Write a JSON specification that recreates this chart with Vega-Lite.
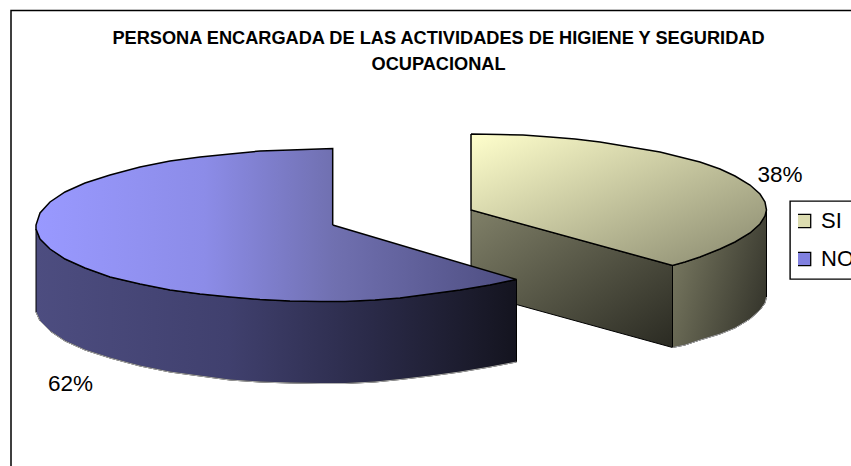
{"$schema":"https://vega.github.io/schema/vega-lite/v6.json","width":851,"height":466,"padding":0,"autosize":{"type":"none"},"background":"white","config":{"view":{"stroke":null},"legend":{"symbolOpacity":1}},
"title":{"text":["PERSONA ENCARGADA DE LAS ACTIVIDADES DE HIGIENE Y SEGURIDAD","OCUPACIONAL"],"font":"Liberation Sans","fontSize":18.2,"fontWeight":"bold","color":"black","anchor":"middle","frame":"group","dx":13,"offset":-74,"lineHeight":26,"baseline":"top"},
"datasets":{"outline":[
{"shape":"frame","seq":1,"x":11,"y":466},{"shape":"frame","seq":2,"x":11,"y":10.5},{"shape":"frame","seq":3,"x":851,"y":10.5},
{"shape":"si_front","seq":1,"x":471,"y":210},{"shape":"si_front","seq":2,"x":672.5,"y":265.5},{"shape":"si_front","seq":3,"x":672.5,"y":347.5},{"shape":"si_front","seq":4,"x":471,"y":292},{"shape":"si_front","seq":5,"x":471,"y":210},
{"shape":"si_side","seq":1,"x":672.5,"y":265.5},{"shape":"si_side","seq":2,"x":685,"y":262},{"shape":"si_side","seq":3,"x":700,"y":257},{"shape":"si_side","seq":4,"x":720,"y":249},{"shape":"si_side","seq":5,"x":735,"y":242},{"shape":"si_side","seq":6,"x":750,"y":233},{"shape":"si_side","seq":7,"x":760,"y":224},{"shape":"si_side","seq":8,"x":765,"y":216},{"shape":"si_side","seq":9,"x":766.5,"y":210},{"shape":"si_side","seq":10,"x":766.5,"y":297},{"shape":"si_side","seq":11,"x":765,"y":303},{"shape":"si_side","seq":12,"x":760,"y":310},{"shape":"si_side","seq":13,"x":750,"y":319},{"shape":"si_side","seq":14,"x":735,"y":328},{"shape":"si_side","seq":15,"x":720,"y":334},{"shape":"si_side","seq":16,"x":700,"y":340},{"shape":"si_side","seq":17,"x":685,"y":345},{"shape":"si_side","seq":18,"x":672.5,"y":347.5},{"shape":"si_side","seq":19,"x":672.5,"y":265.5},
{"shape":"si_top","seq":1,"x":471,"y":134},{"shape":"si_top","seq":2,"x":500,"y":134.5},{"shape":"si_top","seq":3,"x":523,"y":135},{"shape":"si_top","seq":4,"x":550,"y":137},{"shape":"si_top","seq":5,"x":575,"y":139},{"shape":"si_top","seq":6,"x":600,"y":142},{"shape":"si_top","seq":7,"x":630,"y":147},{"shape":"si_top","seq":8,"x":660,"y":152},{"shape":"si_top","seq":9,"x":680,"y":157},{"shape":"si_top","seq":10,"x":700,"y":162},{"shape":"si_top","seq":11,"x":720,"y":169},{"shape":"si_top","seq":12,"x":735,"y":176},{"shape":"si_top","seq":13,"x":750,"y":185},{"shape":"si_top","seq":14,"x":760,"y":194},{"shape":"si_top","seq":15,"x":765,"y":202},{"shape":"si_top","seq":16,"x":766.5,"y":210},{"shape":"si_top","seq":17,"x":765,"y":216},{"shape":"si_top","seq":18,"x":760,"y":224},{"shape":"si_top","seq":19,"x":750,"y":233},{"shape":"si_top","seq":20,"x":735,"y":242},{"shape":"si_top","seq":21,"x":720,"y":249},{"shape":"si_top","seq":22,"x":700,"y":257},{"shape":"si_top","seq":23,"x":685,"y":262},{"shape":"si_top","seq":24,"x":672.5,"y":265.5},{"shape":"si_top","seq":25,"x":471,"y":210},{"shape":"si_top","seq":26,"x":471,"y":134},
{"shape":"no_side","seq":1,"x":36,"y":229},{"shape":"no_side","seq":2,"x":40,"y":239},{"shape":"no_side","seq":3,"x":50,"y":249},{"shape":"no_side","seq":4,"x":65,"y":259},{"shape":"no_side","seq":5,"x":85,"y":268},{"shape":"no_side","seq":6,"x":110,"y":277},{"shape":"no_side","seq":7,"x":140,"y":284},{"shape":"no_side","seq":8,"x":170,"y":290},{"shape":"no_side","seq":9,"x":200,"y":294},{"shape":"no_side","seq":10,"x":230,"y":297},{"shape":"no_side","seq":11,"x":260,"y":299.5},{"shape":"no_side","seq":12,"x":290,"y":301},{"shape":"no_side","seq":13,"x":320,"y":301.5},{"shape":"no_side","seq":14,"x":345,"y":301.5},{"shape":"no_side","seq":15,"x":375,"y":300},{"shape":"no_side","seq":16,"x":400,"y":298},{"shape":"no_side","seq":17,"x":430,"y":294},{"shape":"no_side","seq":18,"x":460,"y":290},{"shape":"no_side","seq":19,"x":490,"y":285},{"shape":"no_side","seq":20,"x":516.5,"y":279.5},{"shape":"no_side","seq":21,"x":516.5,"y":362},{"shape":"no_side","seq":22,"x":490,"y":367},{"shape":"no_side","seq":23,"x":460,"y":372},{"shape":"no_side","seq":24,"x":430,"y":376},{"shape":"no_side","seq":25,"x":400,"y":379.5},{"shape":"no_side","seq":26,"x":375,"y":382},{"shape":"no_side","seq":27,"x":345,"y":383.5},{"shape":"no_side","seq":28,"x":320,"y":383.5},{"shape":"no_side","seq":29,"x":290,"y":383},{"shape":"no_side","seq":30,"x":260,"y":382},{"shape":"no_side","seq":31,"x":230,"y":380},{"shape":"no_side","seq":32,"x":200,"y":376},{"shape":"no_side","seq":33,"x":170,"y":372},{"shape":"no_side","seq":34,"x":140,"y":366},{"shape":"no_side","seq":35,"x":110,"y":358},{"shape":"no_side","seq":36,"x":85,"y":350},{"shape":"no_side","seq":37,"x":65,"y":341},{"shape":"no_side","seq":38,"x":50,"y":331},{"shape":"no_side","seq":39,"x":40,"y":321},{"shape":"no_side","seq":40,"x":36,"y":312},{"shape":"no_side","seq":41,"x":36,"y":229},
{"shape":"no_top","seq":1,"x":332.7,"y":225},{"shape":"no_top","seq":2,"x":332.7,"y":148.5},{"shape":"no_top","seq":3,"x":290,"y":150},{"shape":"no_top","seq":4,"x":260,"y":151},{"shape":"no_top","seq":5,"x":230,"y":154},{"shape":"no_top","seq":6,"x":200,"y":157},{"shape":"no_top","seq":7,"x":170,"y":161},{"shape":"no_top","seq":8,"x":140,"y":167},{"shape":"no_top","seq":9,"x":110,"y":175},{"shape":"no_top","seq":10,"x":85,"y":183},{"shape":"no_top","seq":11,"x":65,"y":192},{"shape":"no_top","seq":12,"x":50,"y":202},{"shape":"no_top","seq":13,"x":40,"y":213},{"shape":"no_top","seq":14,"x":36,"y":225},{"shape":"no_top","seq":15,"x":36,"y":229},{"shape":"no_top","seq":16,"x":40,"y":239},{"shape":"no_top","seq":17,"x":50,"y":249},{"shape":"no_top","seq":18,"x":65,"y":259},{"shape":"no_top","seq":19,"x":85,"y":268},{"shape":"no_top","seq":20,"x":110,"y":277},{"shape":"no_top","seq":21,"x":140,"y":284},{"shape":"no_top","seq":22,"x":170,"y":290},{"shape":"no_top","seq":23,"x":200,"y":294},{"shape":"no_top","seq":24,"x":230,"y":297},{"shape":"no_top","seq":25,"x":260,"y":299.5},{"shape":"no_top","seq":26,"x":290,"y":301},{"shape":"no_top","seq":27,"x":320,"y":301.5},{"shape":"no_top","seq":28,"x":345,"y":301.5},{"shape":"no_top","seq":29,"x":375,"y":300},{"shape":"no_top","seq":30,"x":400,"y":298},{"shape":"no_top","seq":31,"x":430,"y":294},{"shape":"no_top","seq":32,"x":460,"y":290},{"shape":"no_top","seq":33,"x":490,"y":285},{"shape":"no_top","seq":34,"x":516.5,"y":279.5},{"shape":"no_top","seq":35,"x":332.7,"y":225}
],
"slices":[{"category":"SI","share":0.38,"x":780,"y":182},{"category":"NO","share":0.62,"x":70.5,"y":391}]},
"layer":[
{"data":{"name":"outline"},"transform":[{"filter":"datum.shape=='frame'"}],"mark":{"type":"line","stroke":"black","strokeWidth":1.5,"clip":true},"encoding":{"x":{"field":"x","type":"quantitative","scale":{"domain":[0,851],"nice":false,"zero":false},"axis":null},"y":{"field":"y","type":"quantitative","scale":{"domain":[466,0],"nice":false,"zero":false},"axis":null},"order":{"field":"seq"}}},
{"data":{"name":"outline"},"transform":[{"filter":"datum.shape=='si_front'"}],"mark":{"type":"line","stroke":"black","strokeWidth":1,"fill":{"gradient":"linear","x1":0,"y1":0,"x2":1,"y2":1,"stops":[{"offset":0,"color":"#808068"},{"offset":1,"color":"#2a2a22"}]}},"encoding":{"x":{"field":"x","type":"quantitative"},"y":{"field":"y","type":"quantitative"},"order":{"field":"seq"}}},
{"data":{"name":"outline"},"transform":[{"filter":"datum.shape=='si_side'"}],"mark":{"type":"line","stroke":"black","strokeWidth":1,"fill":{"gradient":"linear","x1":0,"y1":0.4,"x2":1,"y2":0.8,"stops":[{"offset":0,"color":"#75755e"},{"offset":1,"color":"#33332a"}]}},"encoding":{"x":{"field":"x","type":"quantitative"},"y":{"field":"y","type":"quantitative"},"order":{"field":"seq"}}},
{"data":{"name":"outline"},"transform":[{"filter":"datum.shape=='si_side' && datum.seq>=10 && datum.seq<=18"}],"mark":{"type":"line","stroke":"#b0b0b0","strokeWidth":1},"encoding":{"x":{"field":"x","type":"quantitative"},"y":{"field":"y","type":"quantitative"},"order":{"field":"seq"}}},
{"data":{"name":"outline"},"transform":[{"filter":"datum.shape=='si_top'"}],"mark":{"type":"line","stroke":"black","strokeWidth":1.5,"fill":{"gradient":"linear","x1":0,"y1":0,"x2":1,"y2":1,"stops":[{"offset":0,"color":"#ffffcc"},{"offset":1,"color":"#88886e"}]}},"encoding":{"x":{"field":"x","type":"quantitative"},"y":{"field":"y","type":"quantitative"},"order":{"field":"seq"}}},
{"data":{"name":"outline"},"transform":[{"filter":"datum.shape=='no_side'"}],"mark":{"type":"line","stroke":"black","strokeWidth":1,"fill":{"gradient":"linear","x1":0,"y1":0,"x2":1,"y2":0,"stops":[{"offset":0,"color":"#4d4d80"},{"offset":0.4,"color":"#40406e"},{"offset":0.7,"color":"#2a2a48"},{"offset":1,"color":"#14141f"}]}},"encoding":{"x":{"field":"x","type":"quantitative"},"y":{"field":"y","type":"quantitative"},"order":{"field":"seq"}}},
{"data":{"name":"outline"},"transform":[{"filter":"datum.shape=='no_side' && datum.seq>=21 && datum.seq<=40"}],"mark":{"type":"line","stroke":"#b0b0b0","strokeWidth":1},"encoding":{"x":{"field":"x","type":"quantitative"},"y":{"field":"y","type":"quantitative"},"order":{"field":"seq"}}},
{"data":{"name":"outline"},"transform":[{"filter":"datum.shape=='no_top'"}],"mark":{"type":"line","stroke":"black","strokeWidth":1.5,"fill":{"gradient":"linear","x1":0,"y1":0,"x2":1,"y2":0,"stops":[{"offset":0,"color":"#9999ff"},{"offset":0.35,"color":"#8c8ce8"},{"offset":0.62,"color":"#7070b0"},{"offset":1,"color":"#4d4d80"}]}},"encoding":{"x":{"field":"x","type":"quantitative"},"y":{"field":"y","type":"quantitative"},"order":{"field":"seq"}}},
{"data":{"name":"slices"},"mark":{"type":"text","font":"Liberation Sans","fontSize":22.5,"baseline":"alphabetic","fill":"black"},"encoding":{"x":{"field":"x","type":"quantitative"},"y":{"field":"y","type":"quantitative"},"text":{"field":"share","type":"quantitative","format":".0%"}}},
{"data":{"name":"slices"},"mark":{"type":"point","filled":true,"size":0},"encoding":{"x":{"field":"x","type":"quantitative"},"y":{"field":"y","type":"quantitative"},"color":{"field":"category","type":"nominal","sort":["SI","NO"],"scale":{"domain":["SI","NO"],"range":["#dcdcb0","#8080e0"]},"legend":{"title":null,"orient":"none","legendX":790,"legendY":201,"fillColor":"white","strokeColor":"black","padding":8,"symbolType":"square","symbolSize":180,"symbolStrokeColor":"black","symbolStrokeWidth":1.3,"symbolOpacity":1,"symbolOffset":-5,"labelFont":"Liberation Sans","labelFontSize":22,"labelColor":"black","labelOffset":6,"rowPadding":14,"clipHeight":24,"labelLimit":200,"encode":{"legend":{"update":{"strokeWidth":{"value":1.4}}}}}}}}
]}
